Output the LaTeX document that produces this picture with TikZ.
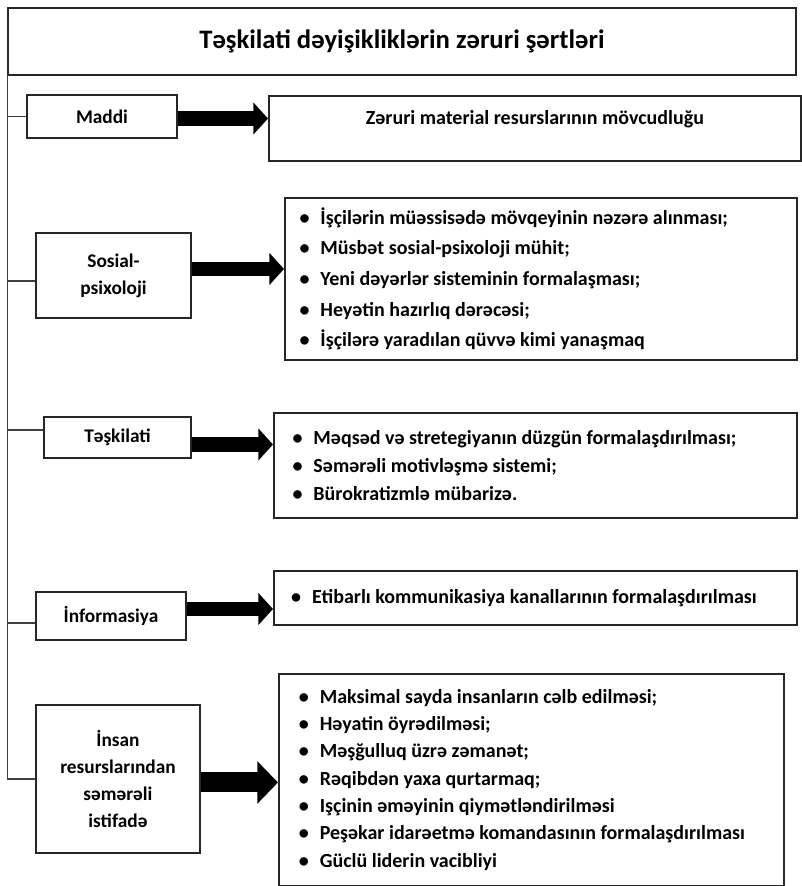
\documentclass[tikz,border=0pt]{standalone}
\usepackage{fontspec}
\setmainfont{Carlito}
\usetikzlibrary{
  arrows.meta,
  positioning
}
\newcommand{\blt}{\textbullet\hspace{0.55em}}

\begin{document}
\begin{tikzpicture}[x=0.75pt,y=-0.75pt,
    every node/.style = {font=\bfseries\fontsize{14.5}{20.25}\selectfont},
    box/.style = {draw=black!85, line width=1.3pt, inner sep=0pt, fill=white},
    kind/.style = {box, align=center},
    list/.style = {box, anchor=north west, align=flush left,
      font=\bfseries\fontsize{15}{20.5}\selectfont},
    spine/.style = {draw=black!75, line width=0.9pt},
    fat arrow/.style = {line width=11pt, -{Triangle[length=11pt, width=23.5pt]}}]
    \tikzstyle{big arrow}=[line width=15pt, -{Triangle[length=15.5pt, width=31pt]}]
  \useasboundingbox (0,0) rectangle (802,886);
  \node[box, minimum width=591pt, minimum height=50.25pt,
    font=\bfseries\fontsize{20}{24}\selectfont] (title) at (402,41.5)
    {Təşkilati dəyişikliklərin zəruri şərtləri};

  \node[kind, minimum width=112.5pt, minimum height=32.25pt] (maddi) at (102,116.5) {Maddi};
  \node[kind, minimum width=116.25pt, minimum height=63.75pt] (sosial) at (113.5,275.5) {Sosial-\\psixoloji};
  \node[kind, minimum width=110.25pt, minimum height=30.75pt] (teskilati) at (117.5,437.5) {Təşkilati};
  \node[kind, minimum width=112.5pt, minimum height=36pt] (info) at (111,616) {İnformasiya};
  \node[kind, minimum width=123pt, minimum height=111pt] (insan) at (118,779)
    {İnsan\\resurslarından\\səmərəli\\istifadə};

  \node[box, anchor=north west, minimum width=399pt, text height=21.75pt, text depth=27pt,
    font=\bfseries\fontsize{15}{18}\selectfont]
    (r1) at (268,95) {Zəruri material resurslarının mövcudluğu};
  \node[list, inner xsep=11pt, minimum height=121.5pt, text width=362pt,
    font=\bfseries\fontsize{15}{23}\selectfont] (r2) at (284,197)
    {\blt İşçilərin müəssisədə mövqeyinin nəzərə alınması;\\
     \blt Müsbət sosial-psixoloji mühit;\\
     \blt Yeni dəyərlər sisteminin formalaşması;\\
     \blt Heyətin hazırlıq dərəcəsi;\\
     \blt İşçilərə yaradılan qüvvə kimi yanaşmaq};
  \node[list, inner xsep=14pt, minimum height=78.75pt, text width=364.25pt,
    font=\bfseries\fontsize{15}{21}\selectfont] (r3) at (273,412)
    {\blt Məqsəd və stretegiyanın düzgün formalaşdırılması;\\
     \blt Səmərəli motivləşmə sistemi;\\
     \blt Bürokratizmlə mübarizə.};
  \node[list, inner xsep=13pt, minimum height=40.5pt, text width=366.25pt] (r4) at (273,570)
    {\blt Etibarlı kommunikasiya kanallarının formalaşdırılması};
  \node[list, inner xsep=15pt, minimum height=159pt, text width=348.75pt] (r5) at (278,673)
    {\blt Maksimal sayda insanların cəlb edilməsi;\\
     \blt Həyatin öyrədilməsi;\\
     \blt Məşğulluq üzrə zəmanət;\\
     \blt Rəqibdən yaxa qurtarmaq;\\
     \blt Işçinin əməyinin qiymətləndirilməsi\\
     \blt Peşəkar idarəetmə komandasının formalaşdırılması\\
     \blt Güclü liderin vacibliyi};

  \draw[spine] (title.south west) |- (insan.west);
  \draw[spine] (maddi.west -| title.south west) -- (maddi.west);
  \draw[spine] ([yshift=-4.1pt]sosial.west -| title.south west) -- ([yshift=-4.1pt]sosial.west);
  \draw[spine] ([yshift=5.6pt]teskilati.west -| title.south west) -- ([yshift=5.6pt]teskilati.west);
  \draw[spine] ([yshift=-5.25pt]info.west -| title.south west) -- ([yshift=-5.25pt]info.west);

  \draw[fat arrow] ([yshift=-1.5pt]maddi.east) -- ([yshift=-1.5pt]maddi.east -| r1.west);
  \draw[fat arrow] ([yshift=4.9pt]sosial.east) -- ([yshift=4.9pt]sosial.east -| r2.west);
  \draw[fat arrow] ([yshift=-5.25pt]teskilati.east) -- ([yshift=-5.25pt]teskilati.east -| r3.west);
  \draw[fat arrow] ([yshift=5.25pt]info.east) -- ([yshift=5.25pt]info.east -| r4.west);
  \draw[big arrow] ([yshift=-2.6pt]insan.east) -- ([yshift=-2.6pt]insan.east -| r5.west);
\end{tikzpicture}
\end{document}
